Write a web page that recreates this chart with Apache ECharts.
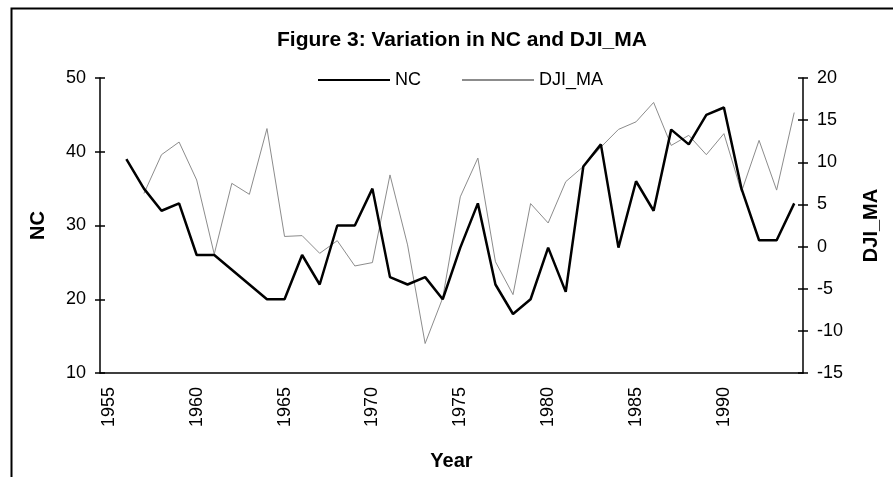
<!DOCTYPE html>
<html>
<head>
<meta charset="utf-8">
<script src="https://cdn.jsdelivr.net/npm/echarts@6/dist/echarts.min.js"></script>
<style>
  html, body { margin: 0; padding: 0; background: #fff; }
  #chart { width: 893px; height: 477px; }
</style>
</head>
<body>
<div id="chart"></div>
<script>
// categories (1955 has no data, it only carries the first label)
var years = ['1955', '1956', '1957', '1958', '1959', '1960', '1961', '1962', '1963', '1964',
             '1965', '1966', '1967', '1968', '1969', '1970', '1971', '1972', '1973', '1974',
             '1975', '1976', '1977', '1978', '1979', '1980', '1981', '1982', '1983', '1984',
             '1985', '1986', '1987', '1988', '1989', '1990', '1991', '1992', '1993', '1994'];

// NC, left axis
var ncValues = [null, 39, 35, 32, 33, 26, 26, 24, 22, 20,
                20, 26, 22, 30, 30, 35, 23, 22, 23, 20,
                27, 33, 22, 18, 20, 27, 21, 38, 41, 27,
                36, 32, 43, 41, 45, 46, 35, 28, 28, 33];

// DJI_MA, right axis (moving average starts in 1957)
var djiValues = [null, null, 6.3, 10.9, 12.4, 7.9, -0.9, 7.5, 6.2, 14.0,
                 1.2, 1.3, -0.8, 0.7, -2.3, -1.9, 8.5, 0.2, -11.5, -6.1,
                 5.9, 10.5, -1.8, -5.7, 5.1, 2.8, 7.7, 9.5, 11.8, 13.9,
                 14.8, 17.1, 12.0, 13.2, 10.9, 13.4, 6.5, 12.6, 6.7, 15.9];

var font = 'Liberation Sans, Arial, sans-serif';
var chart = echarts.init(document.getElementById('chart'), null, { renderer: 'canvas' });

// label every fifth year
function everyFifth(index) {
  return index % 5 === 0;
}

var tickLabel = { fontFamily: font, fontSize: 18, color: '#000' };
var axisName = { fontFamily: font, fontSize: 20, fontWeight: 'bold', color: '#000' };
var tickStyle = { color: '#000', width: 1.5 };

chart.setOption({
  animation: false,
  backgroundColor: '#fff',
  title: {
    text: 'Figure 3: Variation in NC and DJI_MA',
    left: 272,
    top: 25,
    textStyle: { fontFamily: font, fontSize: 21, fontWeight: 'bold', color: '#000' }
  },
  legend: {
    left: 312,
    top: 66,
    itemWidth: 72,
    itemHeight: 14,
    itemGap: 40,
    itemStyle: { opacity: 0 },   // hide the dot, keep the line
    textStyle: { fontFamily: font, fontSize: 18, color: '#000' },
    data: ['NC', 'DJI_MA']
  },
  grid: { left: 100, right: 90, top: 78, bottom: 104, containLabel: false },
  xAxis: [
    {
      type: 'category',
      data: years,
      boundaryGap: true,
      position: 'bottom',
      name: 'Year',
      nameLocation: 'middle',
      nameGap: 78,
      nameTextStyle: axisName,
      axisLine: { onZero: false, lineStyle: { color: '#000', width: 1.5 } },
      axisTick: { interval: 0, length: 5, lineStyle: tickStyle },
      axisLabel: Object.assign({ interval: everyFifth, rotate: 90, margin: 14 }, tickLabel),
      splitLine: { show: false }
    },
    {
      // inner half of the crossing ticks
      type: 'category',
      data: years,
      boundaryGap: true,
      position: 'bottom',
      axisLine: { show: false, onZero: false },
      axisTick: { interval: 0, inside: true, length: 5, lineStyle: tickStyle },
      axisLabel: { show: false },
      splitLine: { show: false }
    }
  ],
  yAxis: [
    {
      type: 'value',
      position: 'left',
      min: 10, max: 50, interval: 10,
      name: 'NC',
      nameLocation: 'middle',
      nameGap: 52,
      nameTextStyle: axisName,
      axisLine: { show: true, onZero: false, lineStyle: { color: '#000', width: 1.5 } },
      axisTick: { show: true, length: 5, lineStyle: tickStyle },
      axisLabel: Object.assign({ margin: 14 }, tickLabel),
      splitLine: { show: false }
    },
    {
      type: 'value',
      position: 'right',
      min: -15, max: 20, interval: 5,
      name: 'DJI_MA',
      nameLocation: 'middle',
      nameGap: 58,
      nameTextStyle: axisName,
      axisLine: { show: true, onZero: false, lineStyle: { color: '#000', width: 1.5 } },
      axisTick: { show: true, length: 5, lineStyle: tickStyle },
      axisLabel: Object.assign({ margin: 14 }, tickLabel),
      splitLine: { show: false }
    },
    {
      type: 'value',
      position: 'left',
      min: 10, max: 50, interval: 10,
      axisLine: { show: false, onZero: false },
      axisTick: { show: true, inside: true, length: 5, lineStyle: tickStyle },
      axisLabel: { show: false },
      splitLine: { show: false }
    },
    {
      type: 'value',
      position: 'right',
      min: -15, max: 20, interval: 5,
      axisLine: { show: false, onZero: false },
      axisTick: { show: true, inside: true, length: 5, lineStyle: tickStyle },
      axisLabel: { show: false },
      splitLine: { show: false }
    }
  ],
  series: [
    {
      name: 'DJI_MA',
      type: 'line',
      yAxisIndex: 1,
      data: djiValues,
      symbol: 'none',
      z: 2,
      itemStyle: { color: '#8c8c8c' },
      lineStyle: { color: '#8c8c8c', width: 1 }
    },
    {
      name: 'NC',
      type: 'line',
      yAxisIndex: 0,
      data: ncValues,
      symbol: 'none',
      z: 3,
      itemStyle: { color: '#000' },
      lineStyle: { color: '#000', width: 2.5 }
    }
  ],
  graphic: [
    {
      // outer chart frame, running off the right and bottom edges
      type: 'rect',
      left: 9, top: 6,
      shape: { width: 900, height: 500 },
      style: { fill: 'none', stroke: '#000', lineWidth: 2 },
      silent: true
    }
  ]
});
</script>
</body>
</html>
